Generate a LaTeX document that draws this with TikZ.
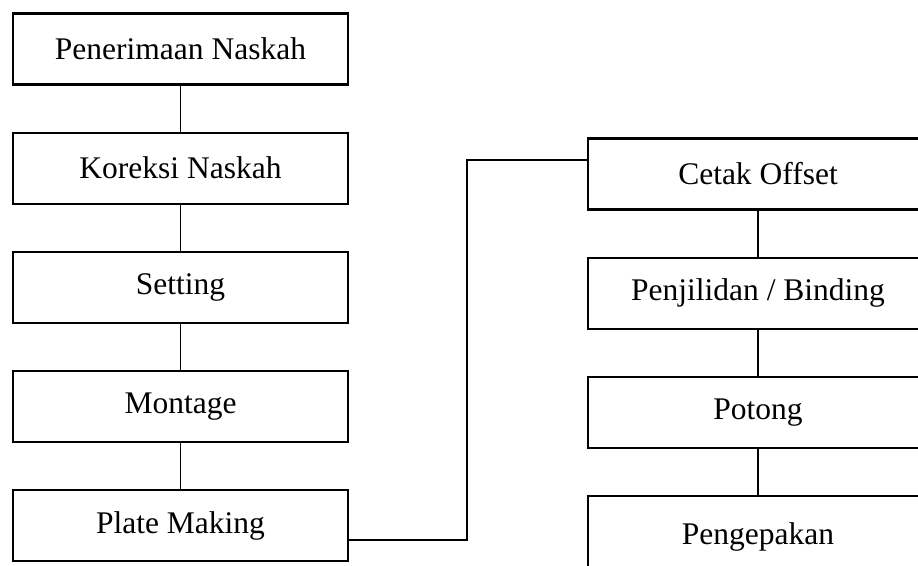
\documentclass[tikz,border=0pt]{standalone}
\usepackage{fontspec}
\setmainfont{Liberation Serif}
\usepackage{tikz}
\usetikzlibrary{positioning}
\tikzset{
  ln/.style={line width=1.9pt,black},
  box/.style={draw,line width=2.2pt,minimum width=335pt,minimum height=71pt,inner sep=0pt,
    align=center,font=\fontsize{31.5}{36}\selectfont}
}

\begin{document}
\begin{tikzpicture}[node distance=46pt]
\useasboundingbox (0,0) rectangle (918pt,565pt);
\clip (0,0) rectangle (918pt,565pt);
% left column
\node[box] (terima) at (180.5pt,516pt) {Penerimaan Naskah};
\node[box,below=of terima] (koreksi) {Koreksi Naskah};
\node[box,below=of koreksi] (setting) {Setting};
\node[box,below=of setting] (montage) {Montage};
\node[box,below=of montage] (plate) {Plate Making};
% right column
\node[box,minimum width=340pt] (cetak) at (758pt,391pt) {Cetak Offset};
\node[box,minimum width=340pt,below=of cetak] (jilid) {Penjilidan / Binding};
\node[box,minimum width=340pt,below=of jilid] (potong) {Potong};
\node[box,minimum width=340pt,minimum height=82pt,below=of potong] (kemas) {Pengepakan};
\draw[ln] (terima)--(koreksi);
\draw[ln] (koreksi)--(setting);
\draw[ln] (setting)--(montage);
\draw[ln] (montage)--(plate);
\draw[ln] (cetak)--(jilid);
\draw[ln] (jilid)--(potong);
\draw[ln] (potong)--(kemas);
% jump to second column
\coordinate (jog) at (467pt,0);
\coordinate (pa) at ([yshift=-14.5pt]plate.east);
\coordinate (pb) at ([yshift=14pt]cetak.west);
\draw[ln] (pa)--(pa -| jog)--(pb -| jog)--(pb);
\end{tikzpicture}
\end{document}
